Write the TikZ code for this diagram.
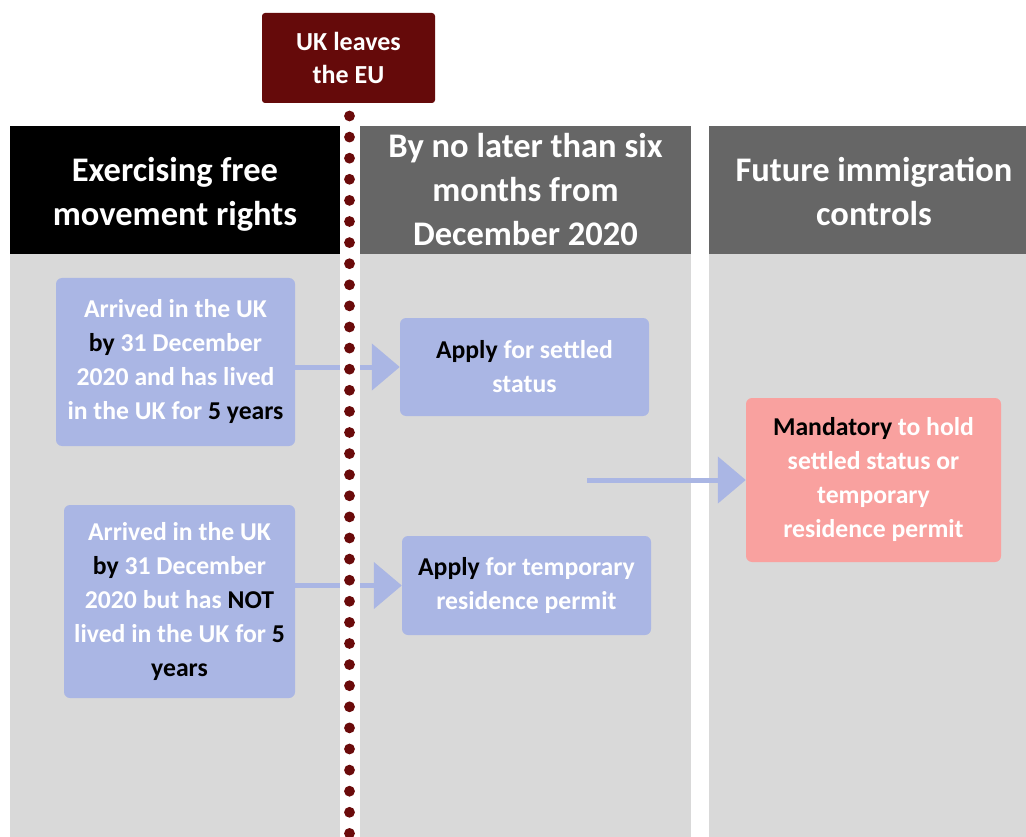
\documentclass[tikz,border=0pt]{standalone}
\usepackage{fontspec}
\setmainfont{Carlito}
\usetikzlibrary{arrows.meta}

\definecolor{ukred}{HTML}{650A0A}
\definecolor{dotred}{HTML}{6A0A0A}
\definecolor{colgray}{HTML}{D9D9D9}
\definecolor{hdrgray}{HTML}{666666}
\definecolor{stepblue}{HTML}{AAB6E4}
\definecolor{mustpink}{HTML}{F9A19F}

\tikzset{
  hdr/.style={inner sep=0pt, text=white, align=center,
    font=\bfseries\fontsize{34.5}{44}\selectfont},
  stepbox/.style={fill=stepblue, rounded corners=6pt, inner sep=0pt,
    text=white, align=center, font=\bfseries\fontsize{25.7}{34}\selectfont},
  flow/.style={draw=stepblue, line width=5pt,
    -{Triangle[length=28pt,width=46pt]}},
}
\newcommand{\kw}[1]{\textcolor{black}{#1}}

\begin{document}
\begin{tikzpicture}[x=1pt,y=-1pt]
\clip (0,0) rectangle (1026,837);
\fill[white] (0,0) rectangle (1026,837);
% columns
\fill[colgray] (10,254) rectangle (340,850);
\fill[colgray] (360,254) rectangle (691,850);
\fill[colgray] (709,254) rectangle (1040,850);
\fill[black] (10,126) rectangle (340,254);
\fill[hdrgray] (360,126) rectangle (691,254);
\fill[hdrgray] (709,126) rectangle (1040,254);
\node[hdr] (hdrnow) at (175,194) {Exercising free\\movement rights};
\node[hdr] (hdrapply) at (525.5,190) {By no later than six\\months from\\December 2020};
\node[hdr] (hdrfuture) at (874,191.5) {Future immigration\\controls};
% boxes
\node[stepbox, minimum width=239pt, minimum height=168pt] (five) at (175.5,362)
  {Arrived in the UK\\\kw{by} 31 December\\2020 and has lived\\in the UK for \kw{5 years}};
\node[stepbox, minimum width=231pt, minimum height=193pt] (notfive) at (179.5,601.5)
  {Arrived in the UK\\\kw{by} 31 December\\2020 but has \kw{NOT}\\lived in the UK for \kw{5}\\\kw{years}};
\node[stepbox, minimum width=249pt, minimum height=98pt] (settled) at (524.5,367)
  {\kw{Apply} for settled\\status};
\node[stepbox, minimum width=249pt, minimum height=99pt] (temp) at (526.5,585.5)
  {\kw{Apply} for temporary\\residence permit};
\node[stepbox, fill=mustpink, minimum width=255pt, minimum height=164pt] (mandatory) at (873.5,480)
  {\kw{Mandatory} to hold\\settled status or\\temporary\\residence permit};
\coordinate (mid) at (587,480);
% arrows
\draw[flow] (five.east |- settled) -- (settled.west);
\draw[flow] (notfive.east |- temp) -- (temp.west);
\draw[flow] (mid) -- (mandatory.west);
% timeline
\fill[white] (340,254) rectangle (360,850);
\node[fill=ukred, rounded corners=3pt, inner sep=0pt, minimum width=173pt, minimum height=90pt,
  text=white, align=center, font=\bfseries\fontsize{26}{33}\selectfont] (brexit) at (348.5,58)
  {UK leaves\\the EU};
\foreach \k in {0,...,34}
  \fill[dotred] (349.5,116+21.1*\k) circle (5.4pt);
\end{tikzpicture}
\end{document}
